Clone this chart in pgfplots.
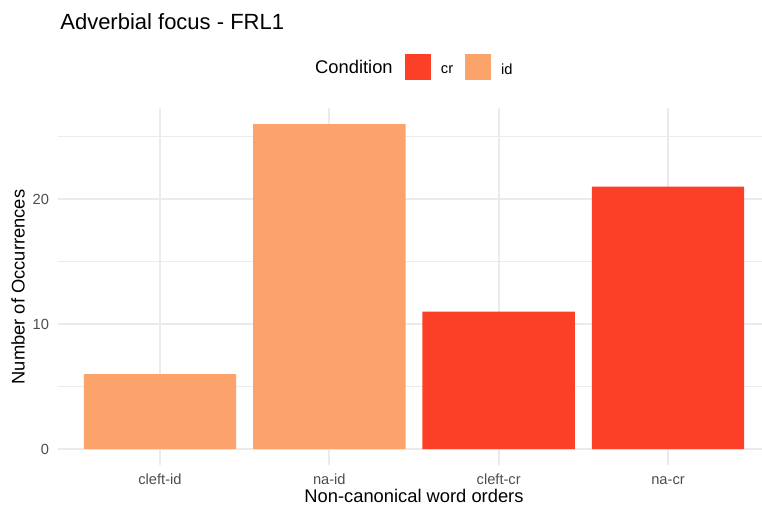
\documentclass[border=0pt]{standalone}
\usepackage{pgfplots}
\pgfplotsset{compat=1.18}
\usepackage{fontspec}
\setmainfont{Liberation Sans}
\definecolor{crcol}{HTML}{FC4027}
\definecolor{idcol}{HTML}{FCA26B}
\definecolor{gridcol}{HTML}{EBEBEB}
\definecolor{tickcol}{HTML}{4D4D4D}

\begin{document}
\begin{tikzpicture}
% 1 px of the reference = 0.6pt
\path[use as bounding box] (-35.04pt,-24.45pt) rectangle (422.16pt,279.15pt);
\begin{axis}[
  scale only axis,
  width=422.16pt, height=214.5pt,
  xmin=0.4, xmax=4.555, ymin=-1.3, ymax=27.3,
  clip=false,
  axis line style={draw=none},
  major tick length=0pt, minor tick length=0pt,
  xtick={1,2,3,4}, xticklabels={cleft-id,na-id,cleft-cr,na-cr},
  ytick={0,10,20}, minor ytick={5,15,25},
  xmajorgrids, ymajorgrids, yminorgrids,
  major grid style={gridcol, line width=1.06pt},
  minor grid style={gridcol, line width=0.53pt},
  tick label style={font=\fontsize{8.8}{10}\selectfont, color=tickcol},
  /pgf/number format/assume math mode=true,
  yticklabel style={xshift=-2.1pt},
  xticklabel style={yshift=-1.6pt, text height=6.4pt, text depth=1.8pt},
  xlabel={Non-canonical word orders},
  ylabel={Number of Occurrences},
  label style={font=\fontsize{11}{13}\selectfont},
  xlabel style={at={(axis description cs:0.5054,-0.085)}, anchor=center},
  ylabel style={at={(axis description cs:-0.0574,0.4986)}, anchor=center},
  title={Adverbial focus - FRL1},
  every axis title shift=0pt,
  title style={at={(axis description cs:0.0023,1.24)}, anchor=west, yshift=0pt, inner sep=0pt, font=\fontsize{13.2}{15}\selectfont},
  legend style={draw=none, fill=none, inner sep=0pt, outer sep=0pt,
    at={(axis description cs:0.4926,1.114)}, anchor=west,
    font=\fontsize{8.8}{10}\selectfont, nodes={inner sep=0pt},
    /tikz/every odd column/.append style={column sep=6pt},
    /tikz/every even column/.append style={column sep=7.2pt}},
  legend columns=-1,
  legend image code/.code={\fill (0pt,-5.5pt) rectangle (15.6pt,10.1pt);},
]
\addplot[ybar, bar width=0.9, bar shift=0pt, fill=crcol, draw=none] coordinates {(3,11) (4,21)};
\addlegendentry{cr}
\addplot[ybar, bar width=0.9, bar shift=0pt, fill=idcol, draw=none] coordinates {(1,6) (2,26)};
\addlegendentry{id}
\node[anchor=east, inner sep=0pt, font=\fontsize{11}{13}\selectfont] at (axis description cs:0.4756,1.114) {Condition};
\end{axis}
\end{tikzpicture}
\end{document}
